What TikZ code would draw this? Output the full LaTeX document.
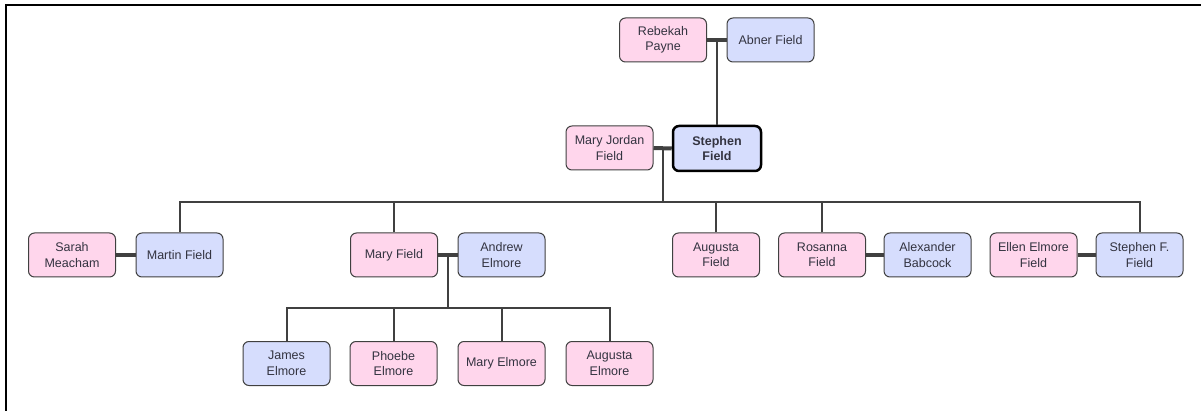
\documentclass[tikz,border=0pt]{standalone}
\usepackage{fontspec}
\setmainfont{Liberation Sans}
\usetikzlibrary{calc}
\definecolor{pinkf}{HTML}{FFD6EC}
\definecolor{bluef}{HTML}{D6DDFD}
\definecolor{edge}{HTML}{404040}
\definecolor{txt}{HTML}{333340}
\tikzset{
  x=1pt,y=-1pt,
  person/.style={draw=edge, line width=1pt, rounded corners=6pt, minimum width=87pt, minimum height=44pt,
    inner sep=1pt, align=center, text=txt, font=\fontsize{12.5}{15.5}\selectfont},
  female/.style={person, fill=pinkf},
  male/.style={person, fill=bluef},
  wed/.style={draw=edge, line width=4pt},
  kin/.style={draw=edge, line width=2pt},
}
\begin{document}
\begin{tikzpicture}
\useasboundingbox (0,0) rectangle (1201,411);
\fill[white] (0,0) rectangle (1201,411);
\draw[line width=2pt] (6,411) -- (6,5) -- (1201,5);

% generation 1
\node[female] (rp) at (663,40) {Rebekah\\Payne};
\node[male] (af) at (770.5,40) {Abner Field};
% generation 2
\node[female] (mjf) at (609.5,148) {Mary Jordan\\Field};
\node[male, draw=black, line width=2.5pt, minimum width=88pt, minimum height=45pt, font=\bfseries\fontsize{12.5}{15.5}\selectfont] (sf) at (717,148.5) {Stephen\\Field};
% generation 3
\node[female] (sm) at (72,255) {Sarah\\Meacham};
\node[male] (mf) at (179.5,255) {Martin Field};
\node[female] (mary) at (394,255) {Mary Field};
\node[male] (ae) at (501.5,255) {Andrew\\Elmore};
\node[female] (agf) at (716,255) {Augusta\\Field};
\node[female] (rf) at (822,255) {Rosanna\\Field};
\node[male] (ab) at (927.5,255) {Alexander\\Babcock};
\node[female] (eef) at (1033.5,255) {Ellen Elmore\\Field};
\node[male] (sff) at (1139.5,255) {Stephen F.\\Field};
% generation 4
\node[male] (je) at (286.5,363.5) {James\\Elmore};
\node[female] (pe) at (393.5,363.5) {Phoebe\\Elmore};
\node[female] (me) at (501.5,363.5) {Mary Elmore};
\node[female] (aue) at (609.5,363.5) {Augusta\\Elmore};

% marriages
\draw[wed] (rp.east) -- (af.west);
\draw[wed] (mjf.east) -- (sf.west);
\draw[wed] (sm.east) -- (mf.west);
\draw[wed] (mary.east) -- (ae.west);
\draw[wed] (rf.east) -- (ab.west);
\draw[wed] (eef.east) -- (sff.west);

\coordinate (m1) at ($(rp.east)!0.5!(af.west)$);
\coordinate (m2) at ($(mjf.east)!0.5!(sf.west)$);
\coordinate (m3) at ($(mary.east)!0.5!(ae.west)$);
\coordinate (bus1) at (0,202);
\coordinate (bus2) at (0,308);

% descent
\draw[kin] (m1) -- (m1 |- sf.north);
\draw[kin] (m2) -- (m2 |- bus1);
\draw[kin] (mf.north) -- (mf.north |- bus1) -- (sff.north |- bus1) -- (sff.north);
\draw[kin] (mary.north) -- (mary.north |- bus1);
\draw[kin] (agf.north) -- (agf.north |- bus1);
\draw[kin] (rf.north) -- (rf.north |- bus1);

\draw[kin] (m3) -- (m3 |- bus2);
\draw[kin] (je.north) -- (je.north |- bus2) -- (aue.north |- bus2) -- (aue.north);
\draw[kin] (pe.north) -- (pe.north |- bus2);
\draw[kin] (me.north) -- (me.north |- bus2);
\end{tikzpicture}
\end{document}
